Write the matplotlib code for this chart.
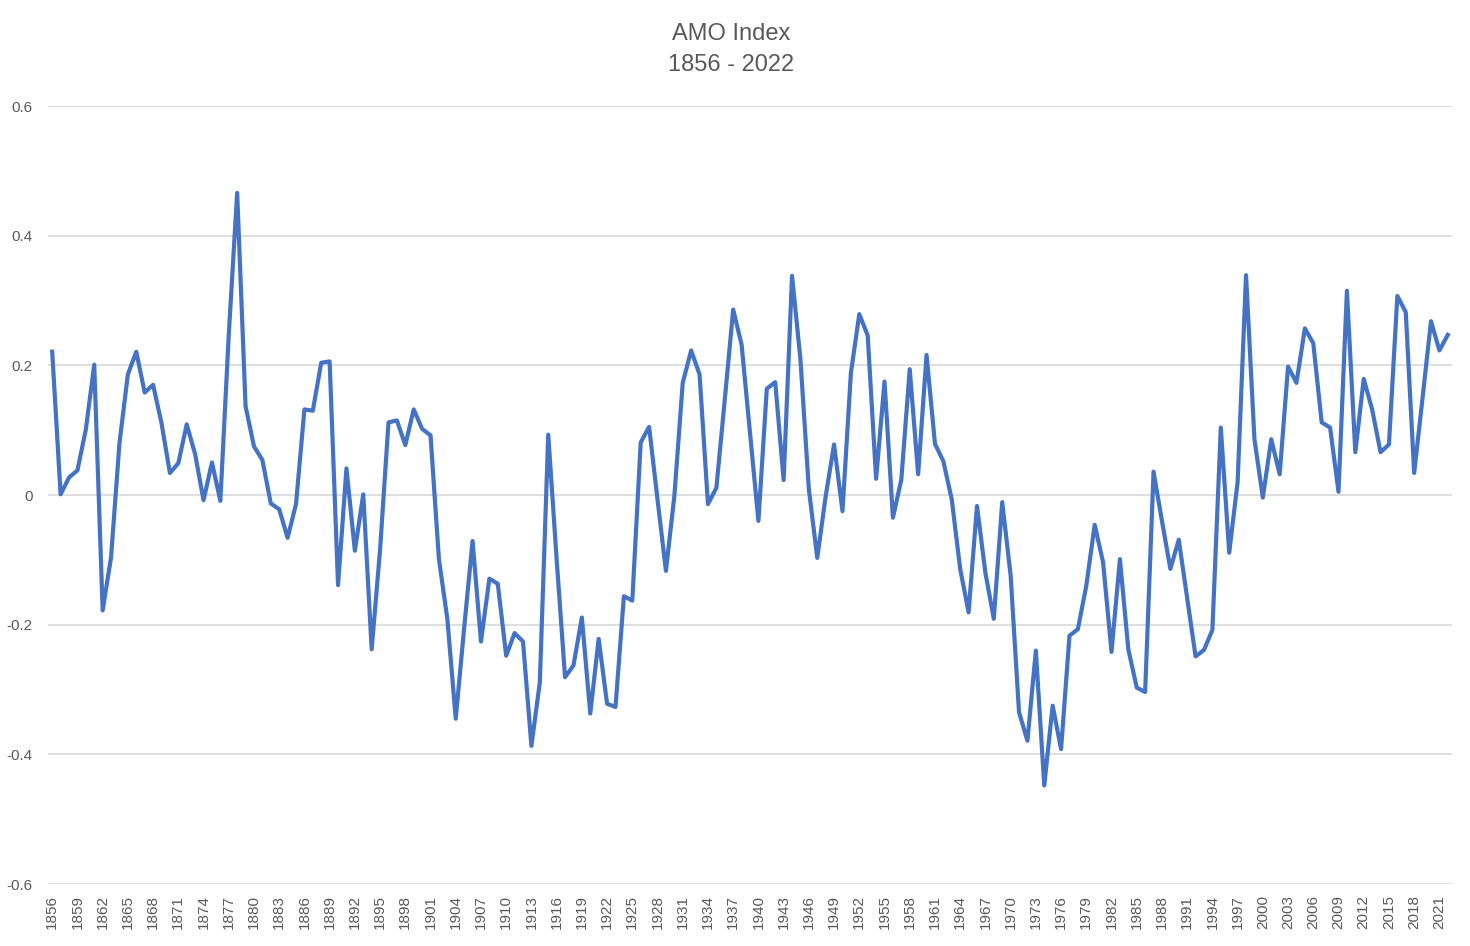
import matplotlib.pyplot as plt

years = list(range(1856, 2023))
amo = [
    0.221, 0.001, 0.027, 0.038, 0.101, 0.201, -0.178, -0.096, 0.080, 0.186,
    0.221, 0.158, 0.170, 0.111, 0.034, 0.049, 0.109, 0.063, -0.008, 0.050,
    -0.009, 0.247, 0.466, 0.137, 0.075, 0.054, -0.013, -0.022, -0.066, -0.014,
    0.132, 0.130, 0.204, 0.206, -0.139, 0.041, -0.086, 0.001, -0.238, -0.084,
    0.112, 0.115, 0.077, 0.132, 0.102, 0.092, -0.099, -0.191, -0.345, -0.205,
    -0.071, -0.226, -0.129, -0.137, -0.248, -0.213, -0.226, -0.387, -0.289, 0.093,
    -0.099, -0.281, -0.263, -0.189, -0.337, -0.222, -0.322, -0.327, -0.156, -0.163,
    0.081, 0.105, -0.007, -0.117, -0.002, 0.173, 0.223, 0.186, -0.014, 0.011,
    0.147, 0.286, 0.232, 0.096, -0.040, 0.164, 0.174, 0.023, 0.338, 0.209,
    0.009, -0.097, -0.002, 0.078, -0.025, 0.188, 0.279, 0.246, 0.025, 0.175,
    -0.035, 0.024, 0.194, 0.032, 0.216, 0.079, 0.052, -0.007, -0.114, -0.181,
    -0.017, -0.120, -0.191, -0.011, -0.124, -0.335, -0.379, -0.240, -0.448, -0.325,
    -0.392, -0.217, -0.207, -0.140, -0.046, -0.104, -0.242, -0.099, -0.238, -0.297,
    -0.304, 0.036, -0.040, -0.114, -0.069, -0.159, -0.249, -0.239, -0.208, 0.104,
    -0.089, 0.020, 0.339, 0.086, -0.004, 0.086, 0.032, 0.198, 0.173, 0.257,
    0.234, 0.112, 0.104, 0.005, 0.315, 0.066, 0.179, 0.132, 0.066, 0.078,
    0.307, 0.282, 0.034, 0.150, 0.268, 0.223, 0.247,
]
yticks = [-0.6, -0.4, -0.2, 0, 0.2, 0.4, 0.6]
ytick_labels = ["-0.6", "-0.4", "-0.2", "0", "0.2", "0.4", "0.6"]
xtick_years = years[::3]

plt.rcParams['font.family'] = ['Liberation Sans', 'DejaVu Sans']
grey = '#595959'

fig = plt.figure(figsize=(14.7, 9.46), dpi=100)
ax = fig.add_axes([48 / 1470, 1 - 884 / 946, 1404 / 1470, 778 / 946])

ax.plot(years, amo, color='#4472C4', linewidth=3.0, solid_joinstyle='round')

ax.set_xlim(1855.5, 2022.5)
ax.set_ylim(-0.6, 0.6)
ax.set_yticks(yticks)
ax.set_yticklabels(ytick_labels)
ax.set_xticks(xtick_years)
ax.set_xticklabels([str(y) for y in xtick_years], rotation=90)
ax.tick_params(axis='both', length=0, labelsize=11, labelcolor=grey)
ax.tick_params(axis='y', pad=11)
ax.tick_params(axis='x', pad=8)

ax.grid(axis='y', color='#d9d9d9', linewidth=1.2)
ax.set_axisbelow(True)
for s in ax.spines.values():
    s.set_visible(False)

fig.text(0.4976, 1 - 39.5 / 946, "AMO Index", ha='center', va='baseline', fontsize=17, color=grey)
fig.text(0.4976, 1 - 71 / 946, "1856 - 2022", ha='center', va='baseline', fontsize=17, color=grey)

fig.savefig('out.png', dpi=100)
